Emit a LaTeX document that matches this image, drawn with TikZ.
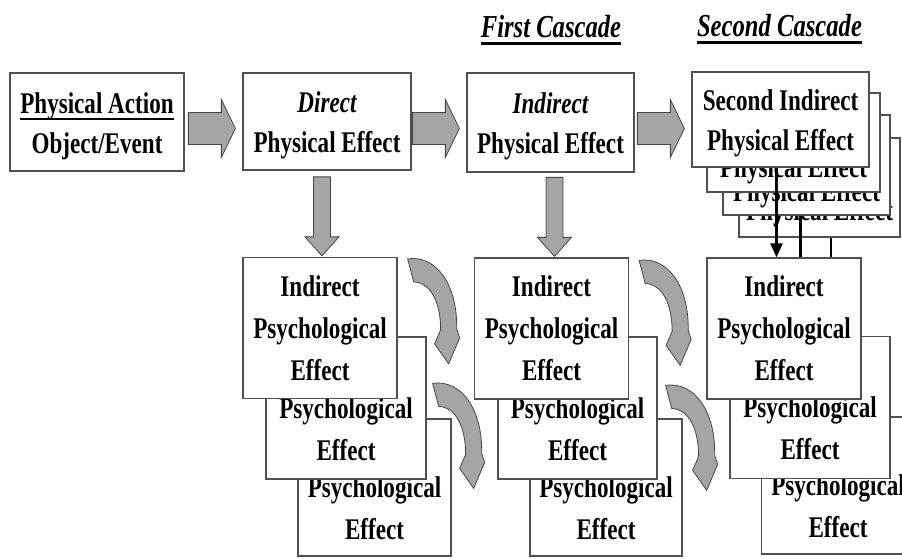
\documentclass[tikz,border=0pt]{standalone}
\usepackage{fontspec}
\setmainfont{Liberation Serif}[FakeStretch=0.77]
\usetikzlibrary{calc,arrows.meta}

\definecolor{boxline}{RGB}{80,80,80}
\definecolor{blockfill}{RGB}{165,165,165}
\definecolor{blockline}{RGB}{70,70,70}

% strut that pushes the first line of a box down
\newcommand\hi{\rule{0pt}{29pt}}
% text with a heavy rule below it: #1 = rule offset, #2 = text
\newcommand\barred[2]{\setbox0=\hbox{#2}\rlap{\rule[#1]{\wd0}{2.8pt}}\box0}

\tikzset{
  box/.style={draw=boxline, line width=1.3pt, fill=white, align=center, inner sep=0pt,
              font=\fontsize{30}{40}\selectfont\bfseries},
  % back copies of the second cascade box: one line set low in the box
  backbox/.style={box, text depth=6pt, text height=#1},
  psy/.style={box, minimum width=154, minimum height=141,
              font=\fontsize{30}{42}\selectfont\bfseries},
  flat/.style={fill=blockfill, draw=blockline, line width=0.8pt, line join=miter},
  link/.style={line width=2.6pt, black},
  title/.style={font=\fontsize{32}{38}\selectfont\bfseries\itshape, inner sep=0pt, anchor=base},
  hblock/.pic={\path[flat] (-47,-16) -- (-14,-16) -- (-14,-29) -- (0,0) -- (-14,29)
                 -- (-14,16) -- (-47,16) -- cycle;},
  vblock/.pic={\path[flat] (-8.5,-79) -- (8.5,-79) -- (8.5,-19) -- (17,-19) -- (0,0)
                 -- (-17,-19) -- (-8.5,-19) -- cycle;},
  bend/.pic={\path[flat] (0,0) .. controls (28,-4) and (50,25) .. (49,70) -- (52,79)
                 -- (41,105) -- (27,85) -- (33,71) .. controls (33,45) and (24,24) .. (6,23)
                 -- cycle;}
}

\begin{document}
\begin{tikzpicture}[x=1pt,y=-1pt]
\useasboundingbox (0,0) rectangle (902,558);
\fill[white] (0,0) rectangle (902,558);
\clip (0,0) rectangle (902,558);

% headings
\node[title] (fc) at (551,37) {\barred{-8pt}{First Cascade}};
\node[title] (sc) at (779.5,36) {\barred{-8pt}{Second Cascade}};

% top row
\node[box, minimum width=174, minimum height=98] (pa) at (97,122)
  {\hi\barred{-7pt}{Physical Action}\\Object/Event};
\node[box, minimum width=168, minimum height=97] (pb) at (327,121.5)
  {\hi{\itshape Direct}\\Physical Effect};
\node[box, minimum width=167, minimum height=99] (pc) at (550.5,122.5)
  {\hi{\itshape Indirect}\\Physical Effect};

% second cascade stack, back to front
\node[backbox=72pt, minimum width=161, minimum height=99] (sd4) at (819.5,187.5) {Physical Effect};
\node[backbox=78pt, minimum width=167, minimum height=100] (sd3) at (806.5,165) {Physical Effect};
\node[backbox=75pt, minimum width=173, minimum height=99] (sd2) at (793.5,142.5) {Physical Effect};
\node[box, minimum width=177, minimum height=95] (sd1) at (780.5,119.5)
  {\hi Second Indirect\\Physical Effect};

% psychological effect stacks, back to front
\node[psy, minimum width=153, minimum height=137] (pB3) at (374.5,487.5) {Indirect\\Psychological\\Effect};
\node[psy, minimum width=160, minimum height=142] (pB2) at (346,408) {Indirect\\Psychological\\Effect};
\node[psy] (pB1) at (320,328) {Indirect\\Psychological\\Effect};

\node[psy, minimum width=152, minimum height=137] (pC3) at (606,487.5) {Indirect\\Psychological\\Effect};
\node[psy, minimum width=159, minimum height=142] (pC2) at (577.5,408) {Indirect\\Psychological\\Effect};
\node[psy] (pC1) at (551.5,328.5) {Indirect\\Psychological\\Effect};

\node[psy, minimum width=153, minimum height=137] (pD3) at (838,485.5) {Indirect\\Psychological\\Effect};
\node[psy, minimum width=160, minimum height=142] (pD2) at (810,407.5) {Indirect\\Psychological\\Effect};
\node[psy] (pD1) at (784,328.5) {Indirect\\Psychological\\Effect};

% block arrows along the top row
\pic at ($(pb.west)+(-7,7)$) {hblock};
\pic at ($(pc.west)+(-7,6)$) {hblock};
\pic at ($(sd1.west)+(-7,9)$) {hblock};

% block arrows down to the psychological effects
\pic at ($(pB1.north)+(2,-1)$) {vblock};
\pic at ($(pC1.north)+(3,-1)$) {vblock};

% curved arrows between columns
\pic at ($(pB1.north east)+(10,2)$) {bend};
\pic at ($(pB2.north east)+(6,47)$) {bend};
\pic at ($(pC1.north east)+(10,3)$) {bend};
\pic at ($(pC2.north east)+(8,49)$) {bend};

% links from the second cascade stack
\coordinate (l1) at ($(sd1.south)+(-4,0)$);
\coordinate (l2) at ($(sd3.south)+(-6,0)$);
\coordinate (l3) at ($(sd4.south)+(11.5,0)$);
\draw[link, -{Triangle[length=14pt,width=12pt]}] (l1) -- (l1 |- pD1.north);
\draw[link] (l2) -- (l2 |- pD1.north);
\draw[link] (l3) -- (l3 |- pD1.north);
\end{tikzpicture}
\end{document}
